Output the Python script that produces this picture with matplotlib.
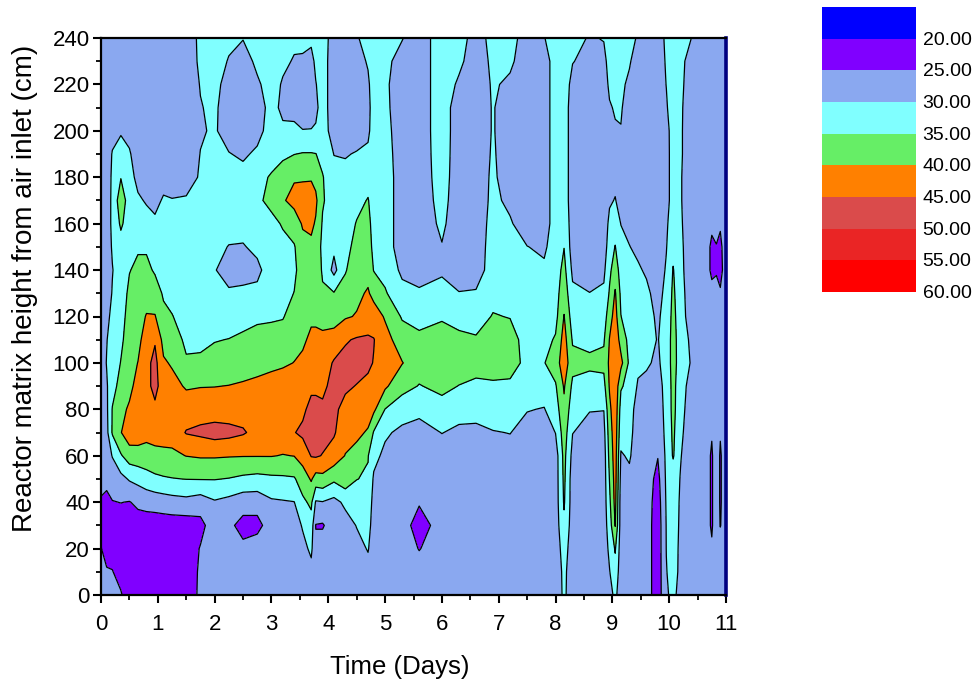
import numpy as np
import matplotlib
matplotlib.use("Agg")
import matplotlib.pyplot as plt
from matplotlib.patches import Rectangle
from matplotlib.ticker import MultipleLocator

plt.rcParams['font.family'] = ['Liberation Sans', 'DejaVu Sans']

# Sampling times (days) and probe heights above the air inlet (cm)
days = [0, 0.1, 0.2, 0.35, 0.5, 0.65, 0.8, 0.95, 1.1, 1.25, 1.5, 1.75, 2.0, 2.25,
        2.5, 2.75, 3.0, 3.2, 3.4, 3.55, 3.7, 3.78, 3.9, 4.1, 4.3, 4.5, 4.7, 4.8,
        5.0, 5.3, 5.6, 6.0, 6.3, 6.6, 6.9, 7.2, 7.5, 7.8, 8.0, 8.15, 8.3, 8.6,
        8.85, 8.95, 9.05, 9.15, 9.3, 9.45, 9.6, 9.8, 9.95, 10.07, 10.2, 10.4,
        10.6, 10.75, 10.83, 10.9, 11.0]
heights = [0, 10, 20, 30, 40, 50, 60, 70, 80, 90, 100, 110, 120, 130, 140, 150,
           160, 170, 180, 190, 200, 210, 220, 230, 240]

# Temperature profiles (deg C), one per sampling time, bottom to top
profiles = [
    [27, 26.5, 25.2, 24.3, 24.5, 26.5, 27.5, 27.5, 27.5, 27.5, 27.5, 27.5, 27.5, 27.5, 27.5, 27.5, 27.5, 27.5, 27.5, 27.5, 27.5, 27.5, 27.5, 27.5, 27.5],
    [26.5, 25.5, 23, 22.5, 23.5, 26.5, 28, 28.5, 29, 29.5, 30.2, 29.8, 29, 27.5, 27.5, 27.5, 27.5, 27.5, 27.5, 27.5, 27.5, 27.5, 27.5, 27.5, 27.5],
    [26, 25.2, 23, 22.5, 24.8, 27.5, 30.2, 35.5, 35.3, 33, 32, 32, 31, 30.3, 29.8, 30.5, 31, 31, 30.8, 30.3, 28.5, 27.5, 27.5, 27.5, 27.5],
    [25.5, 23, 22.5, 22.5, 25.1, 28.5, 34.5, 39.8, 38.5, 37, 35.2, 34, 33, 32.5, 32.5, 33, 35.8, 38, 34.8, 32, 29.5, 28, 27.5, 27.5, 27.5],
    [22, 22, 22, 22.5, 24.8, 30.5, 37.5, 43, 40.8, 38.5, 38, 37.5, 37, 36, 34.8, 33, 32.5, 32.5, 32, 30.5, 28.5, 27.5, 27.5, 27.5, 27.5],
    [22, 22, 22, 22.8, 26, 31.5, 38, 42.5, 43, 42, 40.1, 38.5, 38, 37.5, 36, 34.5, 32.5, 30.8, 28.5, 27.5, 27.5, 27.5, 27.5, 27.5, 27.5],
    [22, 22, 22, 22.8, 26.5, 33, 38, 41.5, 43, 43.5, 43.5, 42.5, 40.3, 38, 36, 34.5, 32, 29.5, 27.5, 27.5, 27.5, 27.5, 27.5, 27.5, 27.5],
    [22, 22, 22, 22.5, 27, 34, 38.5, 42, 44, 46.5, 46.5, 44.5, 40.3, 37, 34.5, 32.5, 31, 28.5, 27.5, 27.5, 27.5, 27.5, 27.5, 27.5, 27.5],
    [22, 22, 22, 22.5, 27.5, 34.5, 38.8, 42, 43, 42.5, 40.6, 38.5, 36, 34.5, 33, 32.5, 32, 30.6, 28, 27.5, 27.5, 27.5, 27.5, 27.5, 27.5],
    [22, 22, 22, 22.5, 28, 34.8, 39, 42, 42.5, 41.5, 39.5, 37.5, 35.2, 33.5, 32.5, 32.5, 32, 30.2, 28, 27.5, 27.5, 27.5, 27.5, 27.5, 27.5],
    [22, 22, 22, 22.5, 28.5, 35.1, 40.1, 45.3, 42.5, 39.5, 35.6, 34, 33, 32.5, 32.5, 32.5, 32, 30.5, 28, 27.5, 27.5, 27.5, 27.5, 27.5, 27.5],
    [26, 25.8, 25.3, 23.5, 27.5, 35.2, 40.5, 46, 43, 39.8, 35.8, 34, 33, 32.5, 32, 32.5, 32.5, 31.5, 30.5, 30.1, 29.6, 29.8, 30.2, 30.8, 31],
    [27.5, 27.5, 27.5, 27.8, 29.5, 35.2, 40.5, 47, 42.5, 39.9, 36.5, 34.8, 33, 31.5, 30.2, 31.5, 32.5, 32.5, 32.5, 31.5, 30.5, 30.8, 31.5, 32, 32.5],
    [27.5, 27.5, 27.5, 26, 28.5, 34.8, 40.3, 46.5, 42.5, 40.1, 37.5, 35.1, 33, 30.5, 28.5, 29.8, 32, 32.5, 32, 30.2, 28, 27.5, 28, 29.7, 31],
    [27.5, 27.5, 26, 23.5, 27, 34, 40.2, 45.5, 43, 40.5, 38, 35.8, 33.5, 30.8, 28.5, 29.7, 31.5, 32.5, 31.5, 29.3, 27.5, 27.5, 27.5, 28, 30.2],
    [27.5, 27.5, 27.5, 23.5, 27, 33.5, 40.2, 43.5, 43, 41, 38.5, 36.5, 34.2, 31, 29, 31, 32.5, 34, 33.5, 30.8, 28.5, 28, 29.3, 31, 32],
    [27.5, 27.5, 27.5, 27.5, 29.3, 34, 40.2, 43, 43.5, 42, 38.8, 36.5, 34.5, 33, 32.2, 32.5, 33.5, 36.5, 35.5, 33, 32, 31.5, 32, 32.5, 32.5],
    [27.5, 27.5, 27.5, 27.5, 29.6, 34.2, 39.8, 43, 44, 42.5, 39.3, 37, 34.7, 33.5, 33.2, 33.5, 35.5, 39.5, 37, 34.2, 30.8, 29, 29.5, 31, 32],
    [27.5, 27.5, 27.5, 27.5, 29.9, 34.5, 40.1, 44.8, 44.5, 43, 40.1, 38.5, 37, 35.1, 34, 34.6, 37.5, 41.5, 39.5, 34.9, 31, 28.5, 28, 29.6, 31],
    [27.5, 27.5, 28.5, 30.5, 34, 37.5, 42, 46, 44, 43, 41.2, 39, 38, 37.5, 37.5, 38.5, 40.5, 42, 39.5, 35.3, 30.1, 28.5, 28, 29.5, 31],
    [27.5, 28.5, 31, 33, 36, 40.5, 45.2, 47, 46.5, 44, 42.5, 41.2, 39, 37.5, 38, 39, 41, 42.5, 39.5, 35.3, 30.2, 28, 27.5, 28.5, 31],
    [27.5, 27.5, 26, 24.8, 29.5, 38, 45.5, 47, 46.5, 44, 42.5, 41.2, 39, 37.5, 37.5, 38, 39.5, 41, 38.5, 35.1, 30.5, 29, 29.8, 31, 32],
    [27.5, 27.5, 27.5, 24.5, 29.8, 38.5, 44.8, 46.5, 45.8, 44, 42.5, 41, 38.5, 35.5, 34.5, 33.8, 34.5, 35.5, 35.3, 33.5, 31.5, 32, 32, 32, 32],
    [27.5, 27.5, 27.5, 27.8, 28.5, 36, 43, 45.5, 46, 46.5, 45.5, 42, 38, 35.3, 28.5, 31, 32.5, 32.5, 31.5, 29.9, 28.5, 27.5, 27.5, 27.5, 28],
    [27.5, 27.5, 27.5, 28, 31, 38, 39.8, 42, 43.5, 45.8, 46.5, 44.5, 39.5, 37, 34.6, 33, 32.5, 32.5, 31.2, 29.7, 28, 27.5, 27.5, 27.5, 27.5],
    [27.5, 27.5, 28.5, 30.2, 32.5, 35.1, 38.5, 41, 43, 44.8, 47, 45.5, 40.3, 39, 38, 37, 35.3, 33.5, 32.5, 30.3, 28, 27.5, 27.5, 28, 29.5],
    [27.5, 28.5, 30.3, 32, 33.5, 34.5, 35.2, 39.5, 42, 44, 45.8, 45.5, 43, 40.5, 38.5, 37.5, 36.5, 35.3, 33, 31, 29, 28.5, 29.2, 30.5, 32],
    [27.5, 27.5, 27.5, 27.5, 28, 29.3, 31.5, 34.6, 41, 43.5, 44.8, 45.2, 42.5, 38.5, 34.8, 33.5, 33, 32.5, 32.5, 32.5, 32.5, 32.5, 32.5, 32.5, 32.5],
    [27.5, 27.5, 27.5, 27.5, 27.5, 27.5, 28.8, 30.8, 34.9, 40.8, 42.5, 41.8, 39.5, 35.5, 33.5, 32.5, 32.5, 32.5, 32.5, 32, 31.5, 31, 30.8, 31, 31.5],
    [27.5, 27.5, 27.5, 27.5, 27.5, 27.5, 27.5, 28.8, 32.5, 36.5, 40.2, 37.5, 34.5, 31.5, 29, 27.5, 27.5, 27.5, 27.5, 27.5, 27.5, 27.5, 27.5, 28.5, 30.2],
    [27.5, 27, 24.8, 22.5, 25.5, 27.5, 27.5, 28.5, 31, 34.8, 37, 36, 33.5, 30.5, 28.5, 27.5, 27.5, 27.5, 27.5, 27.5, 27.5, 27.5, 27.5, 27.5, 27.5],
    [27.5, 27.5, 27.5, 27.5, 27.5, 27.5, 28, 30.1, 33.5, 36, 37.5, 36.5, 34.6, 31.2, 29.5, 29.8, 30.8, 31.5, 32, 32.3, 32.5, 32.5, 32.5, 32.5, 32.5],
    [27.5, 27.5, 27.5, 27.5, 27.5, 27.5, 27.5, 29.2, 31.5, 34.9, 37, 36, 33.5, 30.2, 27.5, 27.5, 27.5, 27.5, 27.5, 27.5, 27.5, 27.5, 29.3, 31, 32],
    [27.5, 27.5, 27.5, 27.5, 27.5, 27.5, 27.5, 29, 31.5, 34.2, 36.5, 35.5, 33, 30.5, 27.5, 27.5, 27.5, 27.5, 27.5, 27.5, 27.5, 27.5, 27.5, 27.5, 28],
    [27.5, 27.5, 27.5, 27.5, 27.5, 27.5, 28.5, 29.8, 32, 34.5, 36.5, 37, 35.3, 33.5, 32.5, 32, 31.5, 31, 30.8, 30.5, 30.3, 30.3, 30.5, 31, 31.5],
    [27.5, 27.5, 27.5, 27.5, 27.5, 27.5, 28.5, 30.1, 31.5, 34.3, 36.5, 37, 34.8, 33, 32, 31.5, 30.5, 29, 27.5, 27.5, 27.5, 27.5, 29.2, 30.8, 32],
    [27.5, 27.5, 27.5, 27.5, 27.5, 27.5, 27.5, 28.5, 30.2, 32, 34, 33, 32.5, 32, 31, 30.1, 27.5, 27.5, 27.5, 27.5, 27.5, 27.5, 27.5, 27.5, 27.5],
    [27.5, 27.5, 27.5, 27.5, 27.5, 27.5, 27.5, 27.5, 29.8, 32, 34.8, 33.5, 32.5, 32, 30.8, 29.2, 27.5, 27.5, 27.5, 27.5, 27.5, 27.5, 27.5, 27.5, 29.8],
    [27.5, 27.5, 27.5, 27.5, 27.5, 27.5, 27.5, 30.1, 32.5, 34.5, 37.5, 35.5, 33.5, 33, 32.5, 32.5, 32.5, 32.5, 32.5, 32.5, 32.5, 32.5, 32.5, 32.5, 32.5],
    [30.8, 31, 32, 34, 35.5, 36, 36.5, 37.5, 39, 40.5, 43, 42, 40.2, 38, 36.5, 34.9, 33.5, 32.5, 32.5, 32.5, 32.5, 32.5, 32.5, 32.5, 32.5],
    [27.5, 27.5, 27.5, 27.5, 27.5, 27.5, 28.5, 30.1, 32, 34, 36.5, 34.5, 32.5, 31, 29, 27.5, 27.5, 27.5, 27.5, 27.5, 27.5, 27.5, 28.5, 30.2, 32],
    [27.5, 27.5, 27.5, 27.5, 27.5, 27.5, 27.5, 28.5, 30.2, 33.5, 35.8, 34, 32, 30.1, 27.5, 27.5, 27.5, 27.5, 27.5, 27.5, 27.5, 27.5, 27.5, 28.5, 29.5],
    [27.5, 27.5, 27.5, 27.5, 27.5, 27.5, 27.5, 28.5, 30.1, 33.5, 36.2, 34.5, 32.5, 30.8, 29, 27.5, 27.5, 27.5, 27.5, 27.5, 27.5, 27.5, 27.5, 28.5, 30.3],
    [28.5, 29.8, 31, 32.5, 34, 35.2, 36.5, 37.5, 38.8, 40.5, 41, 40.2, 38, 35.5, 34, 32.5, 31, 29.5, 28, 28, 28, 29.5, 31, 32, 32.5],
    [31, 33, 35.5, 40.2, 41.5, 42, 42.5, 43, 43.5, 44, 44, 43.5, 42, 40.5, 37.5, 35.2, 32.5, 30.2, 29, 29, 29.5, 30.5, 31.5, 32, 32.5],
    [27.5, 27.5, 27.5, 27.5, 27.5, 28.5, 29.6, 31.5, 33, 35.5, 41.5, 38, 35.1, 34, 33, 31.5, 29.9, 28.5, 28, 28.5, 29.8, 30.5, 31, 31.5, 32],
    [27.5, 27.5, 27.5, 27.5, 27.5, 29, 30.5, 31.5, 32.5, 33.5, 34, 33.5, 32.5, 32, 31, 30.1, 29, 27.5, 27.5, 27.5, 27.5, 27.5, 29, 30.5, 31.5],
    [27.5, 27.5, 27.5, 27.5, 27.5, 27.5, 27.5, 27.5, 27.5, 29.5, 31, 32, 32, 31.5, 30.5, 29.2, 27.5, 27.5, 27.5, 27.5, 27.5, 27.5, 27.5, 27.5, 29.5],
    [27.5, 27.5, 27.5, 27.5, 27.5, 27.5, 27.5, 27.5, 27.5, 29, 30.5, 31.5, 31.5, 30.8, 29.5, 27.5, 27.5, 27.5, 27.5, 27.5, 27.5, 27.5, 27.5, 27.5, 27.5],
    [22, 22, 22, 22, 22.5, 23.5, 25.2, 27, 27.5, 28, 29.3, 29.8, 29.3, 28.5, 27.5, 27.5, 27.5, 27.5, 27.5, 27.5, 27.5, 27.5, 27.5, 27.5, 27.5],
    [29.5, 29.8, 30.1, 30.2, 30.5, 30.8, 31, 31.2, 31.5, 31.8, 32, 32, 31.8, 31.2, 30.5, 29.8, 29.3, 28, 28, 28, 28.2, 29.5, 30.1, 30.5, 31],
    [31, 32, 32, 32, 32, 32, 35.5, 36, 36.5, 36.5, 37, 37, 36.5, 36, 35.3, 33.5, 32.5, 32.5, 32.5, 32.5, 32.5, 32.5, 32.5, 32.5, 32.5],
    [28.5, 28.8, 29, 29.3, 29.5, 29.8, 30.2, 30.8, 31.5, 32, 32.5, 32.3, 32, 31.5, 31, 30.8, 30.5, 30.3, 30.3, 30.5, 30.5, 30.6, 31, 31.5, 32],
    [27.5, 27.5, 27.5, 27.5, 27.5, 27.5, 27.5, 27.5, 27.5, 28, 29.5, 29, 27.5, 27.5, 27.5, 27.5, 27.5, 27.5, 27.5, 27.5, 27.5, 27.5, 27.5, 27.5, 29.9],
    [27.5, 27.5, 27.5, 27.5, 27.5, 27.5, 27.5, 27.5, 27.5, 27.5, 27.5, 27.5, 27.5, 27.5, 27.5, 27.5, 27.5, 27.5, 27.5, 27.5, 27.5, 27.5, 27.5, 27.5, 27.5],
    [27.5, 27.5, 25.5, 24.5, 24.5, 24.5, 24.5, 25.3, 27.5, 27.5, 27.5, 27.5, 27.5, 26, 24.3, 24.3, 25.7, 27.5, 27.5, 27.5, 27.5, 27.5, 27.5, 27.5, 27.5],
    [27.5, 27.5, 27.5, 27.5, 27.5, 27.5, 27.5, 27.5, 27.5, 27.5, 27.5, 27.5, 27.5, 26, 24.7, 24.8, 26.5, 27.5, 27.5, 27.5, 27.5, 27.5, 27.5, 27.5, 27.5],
    [27.5, 27.5, 27.5, 24.8, 24.5, 24.5, 24.5, 25.3, 27.5, 27.5, 27.5, 27.5, 27.5, 25.5, 23.5, 24, 25.5, 27.5, 27.5, 27.5, 27.5, 27.5, 27.5, 27.5, 27.5],
    [27.5, 27.5, 27.5, 27.5, 27.5, 27.5, 27.5, 27.5, 27.5, 27.5, 27.5, 27.5, 27.5, 27.5, 27.5, 27.5, 27.5, 27.5, 27.5, 27.5, 27.5, 27.5, 27.5, 27.5, 27.5],
]

# Contour levels and band colours (coldest to hottest)
levels = [15, 20, 25, 30, 35, 40, 45, 50, 55, 60]
band_colors = ['#0000FF', '#8000FF', '#8AA8F0', '#80FFFF', '#66EE66',
               '#FF8000', '#DA4B4B', '#EA2525', '#FF0000']
legend_labels = ['20.00', '25.00', '30.00', '35.00', '40.00',
                 '45.00', '50.00', '55.00', '60.00']

temperature = np.array(profiles).T

fig = plt.figure(figsize=(9.74, 6.89), dpi=100)
ax = fig.add_axes([101 / 974, 1 - 595 / 689, 625 / 974, 557 / 689])

ax.contourf(days, heights, temperature, levels=levels, colors=band_colors)
ax.contour(days, heights, temperature, levels=levels, colors='black',
           linewidths=0.9)

ax.set_xlim(0, 11)
ax.set_ylim(0, 240)
ax.xaxis.set_major_locator(MultipleLocator(1))
ax.xaxis.set_minor_locator(MultipleLocator(0.5))
ax.yaxis.set_major_locator(MultipleLocator(20))
ax.yaxis.set_minor_locator(MultipleLocator(10))
ax.tick_params(which='major', direction='out', length=6, width=1.5,
               labelsize=16, top=False, right=False)
ax.tick_params(axis='x', which='major', pad=8)
ax.tick_params(axis='y', which='major', pad=2)
ax.tick_params(which='minor', direction='out', length=3.5, width=1.3,
               top=False, right=False)
for side in ('left', 'bottom', 'top'):
    ax.spines[side].set_linewidth(1.6)
ax.spines['right'].set_linewidth(2.6)
ax.spines['right'].set_color('#000080')

ax.set_xlabel('Time (Days)', fontsize=18.5)
ax.set_ylabel('Reactor matrix height from air inlet (cm)', fontsize=20)
ax.xaxis.set_label_coords(0.478, -0.108)
ax.yaxis.set_label_coords(-0.101, 0.551)

# Colour key
lax = fig.add_axes([822 / 974, 1 - 292 / 689, 94 / 974, 285 / 689])
lax.set_xlim(0, 1)
lax.set_ylim(len(band_colors), 0)
lax.axis('off')
for i, col in enumerate(band_colors):
    lax.add_patch(Rectangle((0, i), 1, 1, facecolor=col, edgecolor='none'))
for i, lab in enumerate(legend_labels):
    lax.text(1.07, i + 1.05, lab, fontsize=14, va='center', ha='left',
             clip_on=False)

fig.savefig('out.png', dpi=100)
